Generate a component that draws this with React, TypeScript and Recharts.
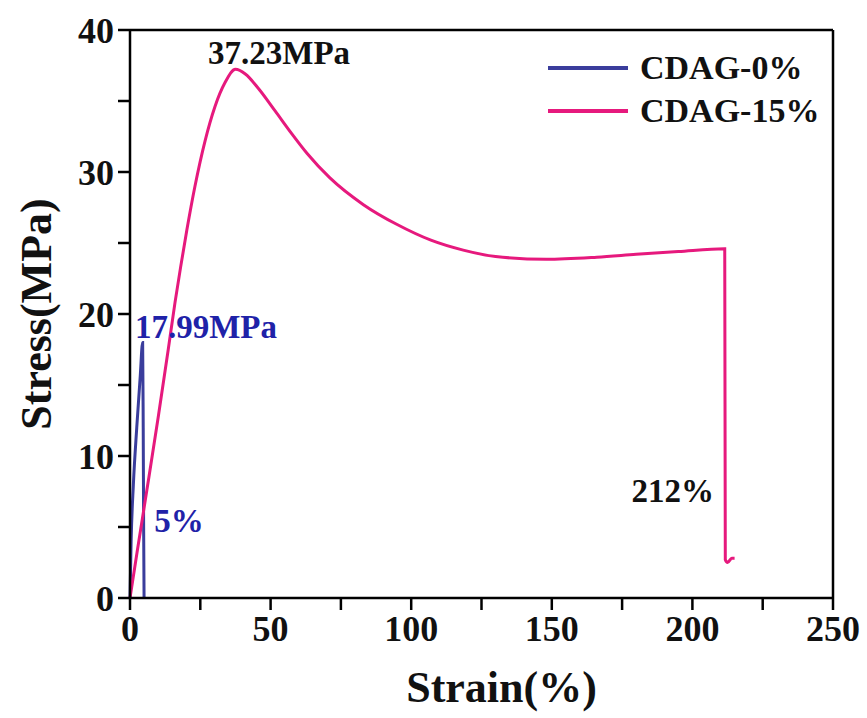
import { LineChart, Line, XAxis, YAxis, ReferenceLine, ReferenceDot } from "recharts";

const FONT = "'Liberation Serif', 'Times New Roman', serif";
const BLUE = "#3a3d9c";
const PINK = "#e6197d";

const strain0 = [0, 0.4, 1.2, 2.4, 3.6, 4.5, 4.7, 4.85, 5];
const stress0 = [0, 4, 8, 12, 15.5, 17.99, 12, 5, 0];

const strain15 = [
  0, 2.5, 6, 10, 13.6, 16, 18, 20.2, 23.1, 26.7, 30.2, 33.8, 37.5, 41, 45.6, 51.6,
  57.5, 63, 71, 83, 95, 107, 118.5, 130, 148, 166, 180, 195, 211.5, 211.7, 212.5, 214, 215,
];
const stress15 = [
  0, 3.2, 7.6, 12.7, 17.5, 20.8, 23.3, 25.9, 29.0, 32.2, 34.6, 36.3, 37.23, 36.9, 35.9,
  34.3, 32.7, 31.3, 29.6, 27.7, 26.3, 25.2, 24.5, 24.05, 23.85, 24.0, 24.2, 24.4, 24.6,
  2.7, 2.5, 2.8, 2.8,
];

const xTicks = [0, 25, 50, 75, 100, 125, 150, 175, 200, 225, 250];
const yTicks = [0, 5, 10, 15, 20, 25, 30, 35, 40];

const series = [
  { name: "CDAG-0%", color: BLUE, data: strain0.map((x, i) => ({ x, y: stress0[i] })) },
  { name: "CDAG-15%", color: PINK, data: strain15.map((x, i) => ({ x, y: stress15[i] })) },
];

const notes = [
  { x: 53, y: 38.45, text: "37.23MPa", color: "#111" },
  { x: 27, y: 19.15, text: "17.99MPa", color: "#1f22a8" },
  { x: 17.4, y: 5.5, text: "5%", color: "#1f22a8" },
  { x: 193, y: 7.6, text: "212%", color: "#111" },
];

function LegendBox() {
  return (
    <div
      style={{
        position: "absolute",
        left: 548,
        top: 46,
        fontFamily: FONT,
        fontWeight: "bold",
        fontSize: 34,
        color: "#111",
      }}
    >
      {series.map((s) => (
        <div key={s.name} style={{ display: "flex", alignItems: "center", height: 43 }}>
          <div style={{ width: 80, height: 4, background: s.color, marginRight: 12 }} />
          <span>{s.name}</span>
        </div>
      ))}
    </div>
  );
}

export default function App() {
  return (
    <div style={{ position: "absolute", left: 0, top: 0, width: 867, height: 718, background: "#fff" }}>
      <LineChart width={867} height={718} margin={{ top: 30, right: 34, bottom: 0, left: 0 }}>
        <XAxis
          type="number"
          dataKey="x"
          domain={[0, 250]}
          ticks={xTicks}
          tickFormatter={(v: number) => (v % 50 === 0 ? String(v) : "")}
          height={120}
          tickSize={12}
          tickMargin={5}
          stroke="#000"
          strokeWidth={2.5}
          tick={{ fill: "#111", fontSize: 36, fontFamily: FONT, fontWeight: "bold" }}
          label={{
            value: "Strain(%)",
            position: "insideBottom",
            offset: 16,
            dx: 20,
            fill: "#111",
            fontSize: 44,
            fontFamily: FONT,
            fontWeight: "bold",
          }}
        />
        <YAxis
          type="number"
          dataKey="y"
          domain={[0, 40]}
          ticks={yTicks}
          tickFormatter={(v: number) => (v % 10 === 0 ? String(v) : "")}
          width={130}
          tickSize={12}
          tickMargin={4}
          stroke="#000"
          strokeWidth={2.5}
          tick={{ fill: "#111", fontSize: 36, fontFamily: FONT, fontWeight: "bold" }}
          label={{
            content: () => (
              <text
                x={36}
                y={314}
                transform="rotate(-90 36 314)"
                textAnchor="middle"
                dominantBaseline="central"
                fill="#111"
                fontSize={44}
                fontFamily={FONT}
                fontWeight="bold"
              >
                Stress(MPa)
              </text>
            ),
          }}
        />
        <ReferenceLine y={40} stroke="#000" strokeWidth={2.5} />
        <ReferenceLine x={250} stroke="#000" strokeWidth={2.5} />
        {series.map((s) => (
          <Line
            key={s.name}
            data={s.data}
            dataKey="y"
            name={s.name}
            type="monotone"
            stroke={s.color}
            strokeWidth={3}
            dot={false}
            isAnimationActive={false}
          />
        ))}
        {notes.map((n) => (
          <ReferenceDot
            key={n.text}
            x={n.x}
            y={n.y}
            r={0}
            stroke="none"
            label={{
              value: n.text,
              position: "center",
              fill: n.color,
              fontSize: 33,
              fontFamily: FONT,
              fontWeight: "bold",
            }}
          />
        ))}
      </LineChart>
      <LegendBox />
    </div>
  );
}
